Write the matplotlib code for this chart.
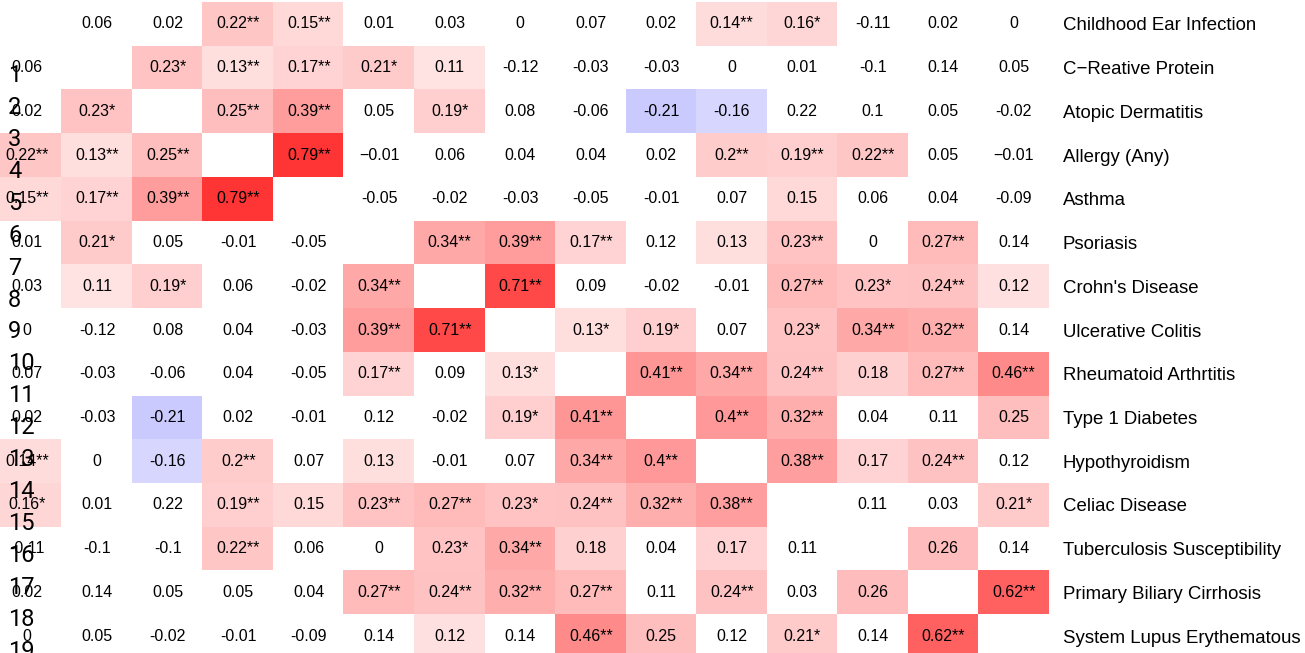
import matplotlib.pyplot as plt
import numpy as np
from matplotlib.colors import LinearSegmentedColormap

plt.rcParams['font.family'] = ['Liberation Sans', 'DejaVu Sans']

traits = ['Childhood Ear Infection', 'C\u2212Reative Protein', 'Atopic Dermatitis',
          'Allergy (Any)', 'Asthma', 'Psoriasis', "Crohn's Disease",
          'Ulcerative Colitis', 'Rheumatoid Arthrtitis', 'Type 1 Diabetes',
          'Hypothyroidism', 'Celiac Disease', 'Tuberculosis Susceptibility',
          'Primary Biliary Cirrhosis', 'System Lupus Erythematous']

# genetic correlations (diagonal left empty)
corr = [
    [np.nan, 0.06, 0.02, 0.22, 0.15, 0.01, 0.03, 0, 0.07, 0.02, 0.14, 0.16, -0.11, 0.02, 0],
    [0.06, np.nan, 0.23, 0.13, 0.17, 0.21, 0.11, -0.12, -0.03, -0.03, 0, 0.01, -0.1, 0.14, 0.05],
    [0.02, 0.23, np.nan, 0.25, 0.39, 0.05, 0.19, 0.08, -0.06, -0.21, -0.16, 0.22, 0.1, 0.05, -0.02],
    [0.22, 0.13, 0.25, np.nan, 0.79, -0.01, 0.06, 0.04, 0.04, 0.02, 0.2, 0.19, 0.22, 0.05, -0.01],
    [0.15, 0.17, 0.39, 0.79, np.nan, -0.05, -0.02, -0.03, -0.05, -0.01, 0.07, 0.15, 0.06, 0.04, -0.09],
    [0.01, 0.21, 0.05, -0.01, -0.05, np.nan, 0.34, 0.39, 0.17, 0.12, 0.13, 0.23, 0, 0.27, 0.14],
    [0.03, 0.11, 0.19, 0.06, -0.02, 0.34, np.nan, 0.71, 0.09, -0.02, -0.01, 0.27, 0.23, 0.24, 0.12],
    [0, -0.12, 0.08, 0.04, -0.03, 0.39, 0.71, np.nan, 0.13, 0.19, 0.07, 0.23, 0.34, 0.32, 0.14],
    [0.07, -0.03, -0.06, 0.04, -0.05, 0.17, 0.09, 0.13, np.nan, 0.41, 0.34, 0.24, 0.18, 0.27, 0.46],
    [0.02, -0.03, -0.21, 0.02, -0.01, 0.12, -0.02, 0.19, 0.41, np.nan, 0.4, 0.32, 0.04, 0.11, 0.25],
    [0.14, 0, -0.16, 0.2, 0.07, 0.13, -0.01, 0.07, 0.34, 0.4, np.nan, 0.38, 0.17, 0.24, 0.12],
    [0.16, 0.01, 0.22, 0.19, 0.15, 0.23, 0.27, 0.23, 0.24, 0.32, 0.38, np.nan, 0.11, 0.03, 0.21],
    [-0.11, -0.1, -0.1, 0.22, 0.06, 0, 0.23, 0.34, 0.18, 0.04, 0.17, 0.11, np.nan, 0.26, 0.14],
    [0.02, 0.14, 0.05, 0.05, 0.04, 0.27, 0.24, 0.32, 0.27, 0.11, 0.24, 0.03, 0.26, np.nan, 0.62],
    [0, 0.05, -0.02, -0.01, -0.09, 0.14, 0.12, 0.14, 0.46, 0.25, 0.12, 0.21, 0.14, 0.62, np.nan],
]

# number of stars per cell
stars = ['000220000021000',
         '001221000000000',
         '010220100000000',
         '222020000022200',
         '222200000000000',
         '010000222002020',
         '001002020002120',
         '000002201101220',
         '000002010222022',
         '000000012022000',
         '200200002202020',
         '100202212220001',
         '000200120000000',
         '000002222020002',
         '000000002001020']

# cells that get a colour fill
shaded = ['000110000011000',
          '001111100000000',
          '010110100110000',
          '111010000011100',
          '111100000001000',
          '010000111011010',
          '011001010001111',
          '000001101101110',
          '000001010111111',
          '001000011011001',
          '101101001101110',
          '100111111110001',
          '000100111010010',
          '000001111010101',
          '000000101101010']

side_numbers = list(range(1, 20))

corr = np.array(corr, dtype=float)
n = len(traits)
mask = np.array([[c == '1' for c in row] for row in shaded])

cmap = LinearSegmentedColormap.from_list('bwr_lin', ['#0000ff', '#ffffff', '#ff0000'])
rgba = cmap((np.nan_to_num(corr) + 1) / 2)
rgba[~mask] = [1, 1, 1, 1]

fig = plt.figure(figsize=(13.05, 6.53), dpi=100)
W, H = 1305, 653
ax = fig.add_axes([-8.5 / W, -5 / H, 1057.5 / W, 656 / H])
ax.imshow(rgba, aspect='auto', interpolation='nearest')

for i in range(n):
    for j in range(n):
        v = corr[i, j]
        if np.isnan(v):
            continue
        s = '{:g}'.format(v)
        if v < 0 and i == 3:
            s = '\u2212' + s[1:]
        s += '*' * int(stars[i][j])
        ax.text(j, i, s, ha='center', va='center', fontsize=11.5, color='black')

ax.set_xticks([])
ax.yaxis.tick_right()
ax.set_yticks(range(n))
ax.set_yticklabels(traits, fontsize=13.4)
ax.tick_params(axis='y', length=0, pad=10)
for sp in ax.spines.values():
    sp.set_visible(False)

for k in side_numbers:
    fig.text(8 / W, 1 - (76 + 32 * (k - 1)) / H, str(k), ha='left', va='center',
             fontsize=17, family='Roboto', color='black')

fig.savefig('out.png', dpi=100)
